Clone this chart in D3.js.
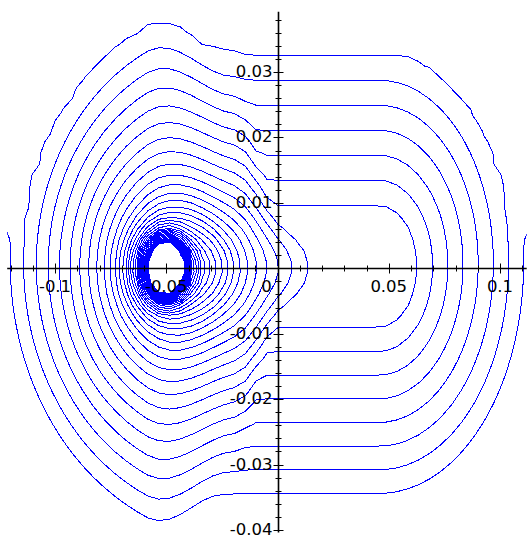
<!DOCTYPE html>
<html><head><meta charset="utf-8">
<script src="https://cdn.jsdelivr.net/npm/d3@7"></script>
<style>html,body{margin:0;padding:0;background:#fff}svg{display:block}</style>
</head><body>
<svg id="chart" width="528" height="540"></svg>
<script>
// ---------- data ----------
const xView = [-0.1215, 0.1120];
const yView = [-0.0404, 0.0392];
const xMinorTicks = d3.range(-12, 12).map(i => i / 100);
const xMajorTicks = [-0.1, -0.05, 0, 0.05, 0.1];
const xTickLabels = ["-0.1", "-0.05", "0", "0.05", "0.1"];
const yMinorTicks = d3.range(-20, 20).map(i => i / 500);
const yMajorTicks = [0.03, 0.02, 0.01, -0.01, -0.02, -0.03, -0.04];
const yTickLabels = ["0.03", "0.02", "0.01", "-0.01", "-0.02", "-0.03", "-0.04"];
const contourLevels = d3.range(0, 37);
const gridSize = [49, 49];
const sourceX = -0.05;

// ---------- field (shape fitted to the picture) ----------
const KX = 2225, KY = 6543;
function ss(a, b, v) { const t = Math.min(1, Math.max(0, (v - a) / (b - a))); return t * t * (3 - 2 * t); }
function smax(a, b, k) { const m = Math.max(a, b); return m + k * Math.log(Math.exp((a - m) / k) + Math.exp((b - m) / k)); }
function smin(a, b, k) { return -smax(-a, -b, k); }
function field(x, y) {
  const dX = (x - sourceX) * KX, dY = y * KY;
  const r0 = Math.hypot(dX, dY / 1.27);
  let ys = 1.27 - 0.27 * ss(-20, 70, dX) - 0.4 * ss(70, 120, dX);
  ys += 0.42 * (1 - ss(8, 40, r0));
  const rho = Math.hypot(dX, dY / ys);
  const e = 0.34 * ss(10, 60, rho);
  const p = Math.max(rho - e * dX, 3);
  const f1 = 33.37 - p / 33.8 - 5.11 * Math.log(p) + 4500 / (p * p) + 100000 / (p * p * p * p);
  const ex = dX < 0 ? -dX : dX > 213 ? dX - 213 : 0;
  const d2 = Math.hypot(ex / 15.17, dY / 24.31);
  const f2 = smin(9.52 - d2, 7.6, 0.25);
  let f = smax(f1, f2, 0.2) + 7.5 * y;
  f += Math.max(0, 1 - f) * 0.85 * ss(0.003, 0.010, y);
  return f;
}

// ---------- scales ----------
const x = d3.scaleLinear().domain(xView).range([7.2, 526.7]);
const y = d3.scaleLinear().domain(yView).range([532.6, 11.8]);
const svg = d3.select("#chart");

// ---------- contours ----------
const nx = gridSize[0], ny = gridSize[1];
const hx = (xView[1] - xView[0]) / (nx - 1), hy = (yView[1] - yView[0]) / (ny - 1);
const W = nx + 2, H = ny + 2;
const values = new Float64Array(W * H);
for (let j = 0; j < H; j++) for (let i = 0; i < W; i++) {
  values[j * W + i] = field(xView[0] + (i - 1) * hx, yView[1] - (j - 1) * hy);
}
const contours = d3.contours().size([W, H]).thresholds(contourLevels)(values);
const proj = d3.geoTransform({ point: function (c, r) {
  this.stream.point(x(xView[0] + (c - 1.5) * hx), y(yView[1] - (r - 1.5) * hy));
}});
const path = d3.geoPath(proj);
svg.append("clipPath").attr("id", "clip").append("rect")
  .attr("x", x(xView[0])).attr("y", y(yView[1]))
  .attr("width", x(xView[1]) - x(xView[0])).attr("height", y(yView[0]) - y(yView[1]));
svg.append("g").attr("clip-path", "url(#clip)")
  .selectAll("path").data(contours).join("path")
  .attr("d", path).attr("fill", "none").attr("stroke", "#0000ff").attr("stroke-width", 1)
  .attr("shape-rendering", "crispEdges");

// ---------- axes ----------
const ax = svg.append("g").attr("stroke", "#000").attr("stroke-width", 1);
const y0 = Math.round(y(0)) + 0.5, x0 = Math.round(x(0)) + 0.5;
ax.append("line").attr("x1", x(xView[0])).attr("x2", x(xView[1])).attr("y1", y0).attr("y2", y0).attr("stroke-width", 1.6);
ax.append("line").attr("y1", y(yView[0])).attr("y2", y(yView[1])).attr("x1", x0).attr("x2", x0).attr("stroke-width", 1.6);
const isMajor = (list, d) => list.some(m => Math.abs(m - d) < 1e-9);
ax.selectAll(".xt").data(xMinorTicks).join("line")
  .attr("x1", d => Math.round(x(d)) + 0.5).attr("x2", d => Math.round(x(d)) + 0.5)
  .attr("y1", d => y0 - (isMajor(xMajorTicks, d) ? 5 : 3))
  .attr("y2", d => y0 + (isMajor(xMajorTicks, d) ? 5 : 3));
ax.selectAll(".yt").data(yMinorTicks).join("line")
  .attr("y1", d => Math.round(y(d)) + 0.5).attr("y2", d => Math.round(y(d)) + 0.5)
  .attr("x1", d => x0 - (isMajor(yMajorTicks, d) ? 5 : 3))
  .attr("x2", d => x0 + (isMajor(yMajorTicks, d) ? 5 : 3));

const font = "'DejaVu Sans', sans-serif";
svg.append("g").selectAll("text").data(xMajorTicks).join("text")
  .attr("x", d => d === 0 ? x(d) - 11 : x(d)).attr("y", y0 + 23)
  .attr("text-anchor", "middle").attr("font-family", font).attr("font-size", 16.5).attr("fill", "#000")
  .text((d, i) => xTickLabels[i]);
svg.append("g").selectAll("text").data(yMajorTicks).join("text")
  .attr("x", x0 - 6).attr("y", d => y(d) + 5)
  .attr("text-anchor", "end").attr("font-family", font).attr("font-size", 16.5).attr("fill", "#000")
  .text((d, i) => yTickLabels[i]);
</script>
</body></html>
